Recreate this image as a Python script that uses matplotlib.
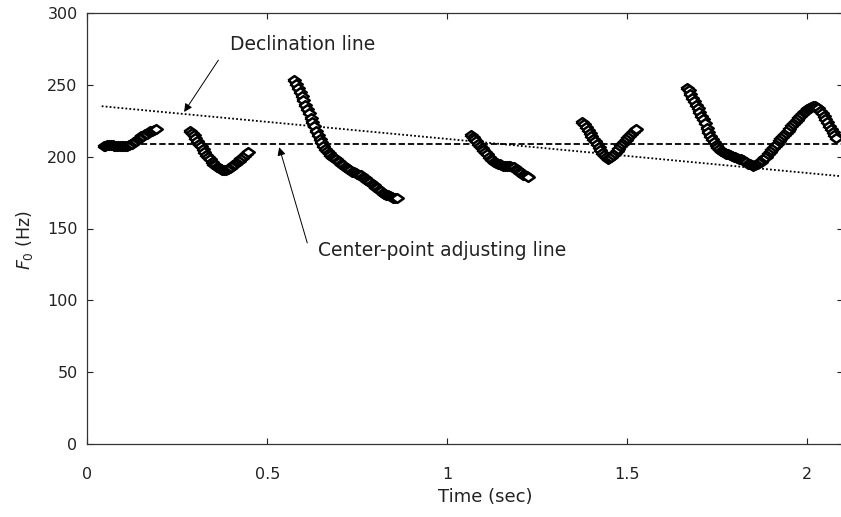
import numpy as np
import matplotlib
matplotlib.use("Agg")
import matplotlib.pyplot as plt

# ---------------- data ----------------
frame_step = 0.005  # s between F0 frames

seg1_start = 0.045
seg1_f0 = [207, 207.5, 208, 208, 208, 208, 207.5, 207.5, 207.5, 207.5,
           207.5, 207.5, 207.5, 207.5, 208, 208.5, 209, 210, 211, 212,
           213, 214, 214.5, 215.5, 216, 217, 217.5, 218, 218.5, 219]

seg2_start = 0.285
seg2_f0 = [218, 216.5, 215, 213, 211, 209, 207, 205, 203, 201,
           199.5, 198, 196.5, 195, 194, 193, 192, 191.5, 191, 191,
           191, 191.5, 192, 193, 194, 195, 196, 197, 198, 199,
           200.5, 201.5, 203]

seg3_start = 0.575
seg3_f0 = [253, 250.5, 248, 245, 242, 239, 236, 233, 230, 227,
           224, 221, 218, 215, 212.5, 210, 207.5, 205.5, 204, 202.5,
           201, 200, 199, 198, 197, 196, 195, 194, 193, 192,
           191.5, 190.5, 189.5, 189, 188.5, 188, 187.5, 187, 186, 185,
           184, 183, 182, 181, 180, 179, 178, 177, 176, 175,
           174, 173.5, 173, 172.5, 172, 171.5, 171.5, 171.5]

seg4_start = 1.065
seg4_f0 = [215, 213.5, 212, 210.5, 209, 207.5, 206, 204.5, 203, 201.5,
           200, 198.5, 197.5, 196.5, 195.5, 195, 194.5, 194, 193.5, 193.5,
           193.5, 193.5, 193.5, 193, 192.5, 191.5, 190.5, 189.5, 188.5, 187.5,
           187, 186.5, 186]

seg5_start = 1.375
seg5_f0 = [224, 222.5, 220.5, 218.5, 216.5, 214.5, 212.5, 210.5, 208.5, 206.5,
           204.5, 202.5, 201, 199.5, 198.5, 199, 200, 201, 202.5, 204,
           205.5, 207, 208.5, 210, 211.5, 213, 214.5, 216, 217, 218.5,
           219.5]

seg6_start = 1.665
seg6_f0 = [248, 246, 243.5, 241, 238.5, 236, 233.5, 231, 228.5, 226,
           223, 220, 217, 214.5, 212, 210, 208, 206.5, 205, 204,
           203, 202.5, 202, 201.5, 201, 200.5, 200, 199.5, 199, 198.5,
           198, 197.5, 197, 196, 195, 194.5, 194, 193.5, 194, 194.5,
           195.5, 196.5, 197.5, 199, 200, 201.5, 203, 204.5, 206, 207.5,
           209, 210.5, 212, 213.5, 215, 216.5, 218, 219.5, 221, 222.5,
           224, 225.5, 227, 228.5, 229.5, 231, 232, 233, 234, 234.5,
           235, 235, 234.5, 233.5, 232, 230, 228, 226, 224, 221.5,
           219, 217, 215, 213]

segments = [(seg1_start, seg1_f0), (seg2_start, seg2_f0), (seg3_start, seg3_f0),
            (seg4_start, seg4_f0), (seg5_start, seg5_f0), (seg6_start, seg6_f0)]

decl_t = [0.04, 2.1]
decl_f0 = [235, 186.2]

center_t = [0.045, 2.1]
center_f0 = [208.5, 208.5]

x_ticks = [0, 0.5, 1, 1.5, 2]
x_tick_labels = ["0", "0.5", "1", "1.5", "2"]
y_ticks = [0, 50, 100, 150, 200, 250, 300]

# ---------------- figure ----------------
W, H = 841, 517
fig = plt.figure(figsize=(W / 100, H / 100), dpi=100)
plt.rcParams['mathtext.fontset'] = 'dejavusans'

left_px, right_px, top_px, bottom_px = 87.3, 843.0, 12.7, 444.3
ax = fig.add_axes([left_px / W, 1 - bottom_px / H,
                   (right_px - left_px) / W, (bottom_px - top_px) / H])

rhombus = [(-1, 0), (0, 0.7), (1, 0), (0, -0.7), (-1, 0)]

for t0, f0 in segments:
    t = t0 + frame_step * np.arange(len(f0))
    ax.plot(t, f0, linestyle='none', marker=rhombus, markersize=9,
            markerfacecolor='white', markeredgecolor='black',
            markeredgewidth=1.8, zorder=3)

ax.plot(decl_t, decl_f0, color='black', linestyle=(0, (1, 1.2)), lw=1.3, zorder=2)
ax.plot(center_t, center_f0, color='black', linestyle=(0, (3.5, 1.6)), lw=1.3, zorder=2)

ax.set_xlim(0, (right_px - left_px) / 360.0)
ax.set_ylim(0, 300)
ax.set_xticks(x_ticks)
ax.set_xticklabels(x_tick_labels)
ax.set_yticks(y_ticks)

ax.tick_params(axis='both', direction='in', length=4, width=0.8,
               top=True, right=True, labelsize=11.5, colors='#222222')
ax.tick_params(axis='x', pad=16)
ax.tick_params(axis='y', pad=7)
for s in ax.spines.values():
    s.set_linewidth(0.9)
    s.set_color('#333333')

ax.set_xlabel('Time (sec)', fontsize=13, color='#222222')
ax.xaxis.set_label_coords(0.526, -(496.7 - bottom_px) / (bottom_px - top_px))
ax.xaxis.label.set_va('center')
ax.set_ylabel(r'$\mathit{F}_{0}$ (Hz)', fontsize=12.5, color='#222222')
ax.yaxis.set_label_coords(-(left_px - 25) / (right_px - left_px),
                          (bottom_px - 240) / (bottom_px - top_px))
ax.yaxis.label.set_va('center')

arrow = dict(arrowstyle='-|>', lw=0.7, color='black', mutation_scale=12,
             shrinkA=0, shrinkB=0)
ax.annotate('', xy=(0.269, 231), xytext=(0.364, 267), arrowprops=arrow)
ax.text(0.396, 278, 'Declination line', fontsize=13.5, color='#222222',
        ha='left', va='center')
ax.annotate('', xy=(0.533, 206.5), xytext=(0.611, 140), arrowprops=arrow)
ax.text(0.641, 135, 'Center-point adjusting line', fontsize=13.5,
        color='#222222', ha='left', va='center')

fig.savefig('out.png', dpi=100)
